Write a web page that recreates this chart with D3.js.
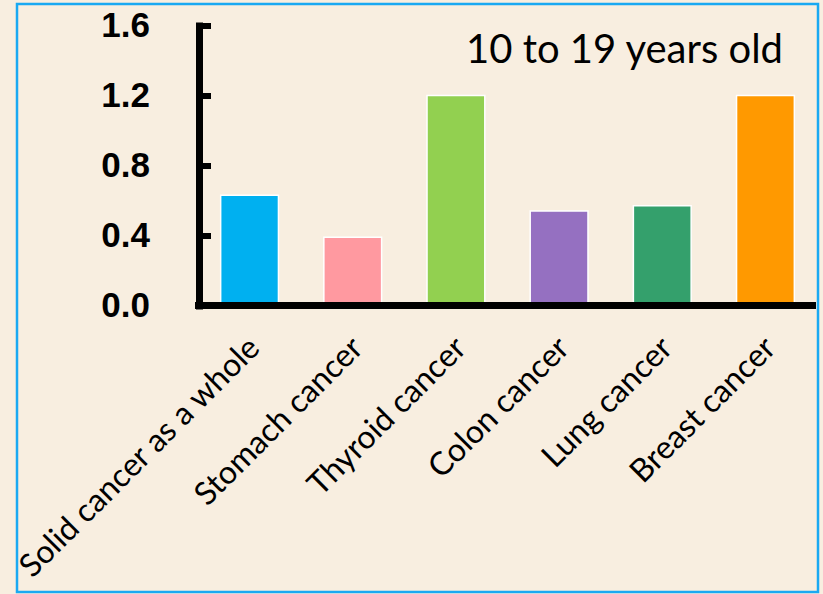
<!DOCTYPE html>
<html>
<head>
<meta charset="utf-8">
<script src="https://cdn.jsdelivr.net/npm/d3@7"></script>
<style>
  html, body { margin: 0; padding: 0; background: #f8eee0; }
  svg { display: block; }
</style>
</head>
<body>
<svg id="chart" width="823" height="594"></svg>
<script>
// Cancer risk estimates, exposure at 10 to 19 years of age
const categories = ["Solid cancer as a whole", "Stomach cancer", "Thyroid cancer", "Colon cancer", "Lung cancer", "Breast cancer"];
const values = [0.63, 0.39, 1.2, 0.54, 0.57, 1.2];
const barColors = ["#00b0f0", "#ff99a0", "#92d050", "#9570c1", "#34a06c", "#ff9900"];
const yTicks = [0.0, 0.4, 0.8, 1.2, 1.6];
const title = "10 to 19 years old";

const svg = d3.select("#chart");

// frame
svg.append("rect")
  .attr("x", 0).attr("y", 0).attr("width", 823).attr("height", 594)
  .attr("fill", "#f8eee0");

const x = d3.scaleBand()
  .domain(categories)
  .range([199, 816])
  .paddingInner(0.44)
  .paddingOuter(0.21);

const y = d3.scaleLinear()
  .domain([0, 1.6])
  .range([305.5, 25.5]);

// bars
svg.append("g")
  .selectAll("rect")
  .data(values)
  .join("rect")
  .attr("x", (d, i) => x(categories[i]))
  .attr("y", d => y(d))
  .attr("width", x.bandwidth())
  .attr("height", d => y(0) - y(d))
  .attr("fill", (d, i) => barColors[i])
  .attr("stroke", "#ffffff")
  .attr("stroke-width", 1.5);

// x axis
const xAxis = svg.append("g")
  .attr("transform", `translate(0,${y(0)})`)
  .call(d3.axisBottom(x).tickSize(0).tickFormat(""));
xAxis.select(".domain")
  .attr("d", `M195,0H816`)
  .attr("stroke", "#000")
  .attr("stroke-width", 7);

// category labels, rotated
svg.append("g")
  .selectAll("text")
  .data(categories)
  .join("text")
  .attr("transform", d => `translate(${x(d) + x.bandwidth() / 2 + 12},${350}) rotate(-45)`)
  .attr("text-anchor", "end")
  .attr("font-family", "Lato, 'Open Sans', sans-serif")
  .attr("font-size", 32)
  .attr("fill", "#000")
  .text(d => d);

// y axis
const yAxis = svg.append("g")
  .attr("transform", "translate(199,0)")
  .call(d3.axisLeft(y)
    .tickValues(yTicks)
    .tickFormat(d3.format(".1f"))
    .tickSizeInner(-12)
    .tickSizeOuter(0)
    .tickPadding(49));
yAxis.select(".domain")
  .attr("stroke", "#000")
  .attr("stroke-width", 7)
  .attr("stroke-linecap", "square");
yAxis.selectAll(".tick line")
  .attr("stroke", "#000")
  .attr("stroke-width", 6);
yAxis.selectAll(".tick text")
  .attr("font-family", "'Liberation Sans', Arial, sans-serif")
  .attr("font-weight", "bold")
  .attr("font-size", 35)
  .attr("fill", "#000")
  .attr("dy", "0.3em");

// title
svg.append("text")
  .attr("x", 466)
  .attr("y", 63)
  .attr("font-family", "Lato, 'Open Sans', sans-serif")
  .attr("font-size", 40)
  .attr("fill", "#000")
  .text(title);

// border
svg.append("rect")
  .attr("x", 17).attr("y", 4).attr("width", 801).attr("height", 588)
  .attr("fill", "none")
  .attr("stroke", "#1aa9f2")
  .attr("stroke-width", 2.5);
</script>
</body>
</html>
